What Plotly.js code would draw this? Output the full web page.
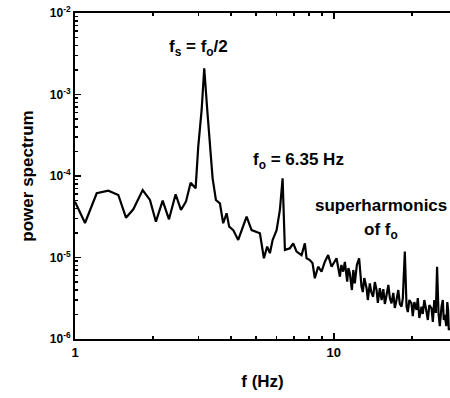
<!DOCTYPE html>
<html>
<head>
<meta charset="utf-8">
<script src="https://cdn.plot.ly/plotly-3.0.1.min.js"></script>
<style>html,body{margin:0;padding:0;background:#fff;}#chart{width:450px;height:398px;}</style>
</head>
<body>
<div id="chart"></div>
<script>
// frequency (Hz)
var freq = [
  1.000, 1.093, 1.213, 1.345, 1.470, 1.574, 1.680, 1.826, 1.948, 2.054,
  2.181, 2.307, 2.448, 2.567, 2.683, 2.797, 2.924, 2.993, 3.085, 3.157,
  3.243, 3.320, 3.401, 3.503, 3.629, 3.737, 3.852, 3.942, 4.086, 4.271,
  4.442, 4.602, 4.811, 5.029, 5.180, 5.367, 5.527, 5.662, 5.800, 6.009,
  6.188, 6.339, 6.470, 6.765, 6.966, 7.178, 7.504, 7.727, 7.845, 8.078,
  8.275, 8.444, 8.696, 8.962, 9.232, 9.507, 9.797, 10.24, 10.55, 10.69,
  10.86, 11.03, 11.26, 11.38, 11.53, 11.74, 11.89, 12.05, 12.27, 12.52,
  12.66, 12.79, 12.94, 13.11, 13.38, 13.53, 13.77, 13.95, 14.18, 14.40,
  14.62, 14.79, 15.05, 15.29, 15.53, 15.74, 15.98, 16.24, 16.46, 16.70,
  16.97, 17.20, 17.46, 17.74, 17.98, 18.26, 18.47, 18.80, 19.09, 19.31,
  19.57, 19.95, 20.18, 20.46, 20.86, 21.10, 21.39, 21.81, 22.06, 22.36,
  22.80, 23.07, 23.38, 23.84, 24.12, 24.44, 24.77, 25.05, 25.37, 25.66,
  26.06, 26.36, 26.59, 26.83, 27.19, 27.43, 27.63, 27.80, 28.04
];
// power spectrum
var power = [
  4.84e-5, 2.65e-5, 6.14e-5, 6.61e-5, 5.85e-5, 3.08e-5, 3.90e-5, 6.73e-5, 5.08e-5, 2.75e-5,
  4.98e-5, 2.94e-5, 5.96e-5, 3.83e-5, 4.84e-5, 8.28e-5, 7.06e-5, 2.29e-4, 6.46e-4, 2.09e-3,
  6.46e-4, 2.52e-4, 9.37e-5, 5.08e-5, 4.62e-5, 2.63e-5, 3.49e-5, 2.39e-5, 2.17e-5, 1.64e-5,
  2.39e-5, 3.17e-5, 2.17e-5, 2.07e-5, 1.98e-5, 9.78e-6, 1.36e-5, 1.13e-5, 1.64e-5, 2.17e-5,
  3.83e-5, 9.37e-5, 1.24e-5, 1.30e-5, 1.49e-5, 1.18e-5, 1.07e-5, 1.49e-5, 9.78e-6, 9.31e-6,
  8.49e-6, 5.56e-6, 7.71e-6, 6.70e-6, 8.87e-6, 1.07e-5, 7.71e-6, 9.78e-6, 5.81e-6, 8.09e-6,
  6.70e-6, 8.81e-6, 5.05e-6, 7.43e-6, 6.40e-6, 3.99e-6, 7.03e-6, 4.82e-6, 8.09e-6, 9.78e-6,
  6.10e-6, 4.38e-6, 3.77e-6, 5.60e-6, 4.19e-6, 3.01e-6, 4.82e-6, 3.77e-6, 3.30e-6, 5.00e-6,
  3.99e-6, 2.77e-6, 4.22e-6, 3.01e-6, 4.10e-6, 2.69e-6, 3.47e-6, 4.60e-6, 3.18e-6, 2.74e-6,
  3.67e-6, 2.40e-6, 3.01e-6, 3.99e-6, 2.69e-6, 2.49e-6, 3.18e-6, 1.18e-5, 2.49e-6, 2.14e-6,
  3.01e-6, 2.74e-6, 1.91e-6, 2.84e-6, 2.27e-6, 3.18e-6, 1.81e-6, 2.49e-6, 2.03e-6, 3.01e-6,
  2.16e-6, 1.71e-6, 2.61e-6, 2.38e-6, 1.62e-6, 3.01e-6, 2.09e-6, 7.71e-6, 2.07e-6, 1.44e-6,
  2.49e-6, 3.01e-6, 1.71e-6, 1.97e-6, 1.44e-6, 2.84e-6, 2.27e-6, 1.29e-6, 1.36e-6
];
// tick labels
var xTickVals = [1, 10];
var xTickText = ['1', '10'];
var yTickVals = [1e-6, 1e-5, 1e-4, 1e-3, 1e-2];
var yTickText = ['10<sup>-6</sup>', '10<sup>-5</sup>', '10<sup>-4</sup>', '10<sup>-3</sup>', '10<sup>-2</sup>'];

function minorTicks(lo, hi) {
  var out = [];
  for (var d = lo; d < hi; d++) {
    for (var m = 2; m <= 9; m++) out.push(m * Math.pow(10, d));
  }
  return out;
}

var FONT = 'Liberation Sans, Arial, sans-serif';

var trace = {
  x: freq, y: power, type: 'scatter', mode: 'lines',
  line: {color: '#000', width: 2.2}, hoverinfo: 'skip'
};

var annFont = {family: FONT, size: 17, color: '#000', weight: 'bold'};

var layout = {
  width: 450, height: 398,
  margin: {l: 75, r: 0, t: 13, b: 59},
  paper_bgcolor: '#fff', plot_bgcolor: '#fff',
  showlegend: false,
  font: {family: FONT, color: '#000'},
  xaxis: {
    type: 'log', range: [0, Math.log10(28.1)],
    tickmode: 'array', tickvals: xTickVals, ticktext: xTickText,
    ticks: 'inside', ticklen: 6, tickwidth: 1.5, tickcolor: '#000',
    minor: {tickmode: 'array', tickvals: minorTicks(0, 2), ticks: 'inside', ticklen: 3, tickcolor: '#000', showgrid: false},
    showline: true, linecolor: '#000', linewidth: 2, mirror: 'ticks',
    showgrid: false, zeroline: false,
    tickfont: {family: FONT, size: 13, color: '#000', weight: 'bold'},
    title: {text: 'f (Hz)', font: {family: FONT, size: 17, color: '#000', weight: 'bold'}, standoff: 17}
  },
  yaxis: {
    type: 'log', range: [-6, -2],
    tickmode: 'array', tickvals: yTickVals, ticktext: yTickText,
    ticks: 'inside', ticklen: 6, tickwidth: 1.5, tickcolor: '#000',
    minor: {tickmode: 'array', tickvals: minorTicks(-6, -2), ticks: 'inside', ticklen: 3, tickcolor: '#000', showgrid: false},
    showline: true, linecolor: '#000', linewidth: 2, mirror: false,
    showgrid: false, zeroline: false,
    tickfont: {family: FONT, size: 12, color: '#000', weight: 'bold'},
    title: {text: 'power spectrum', font: {family: FONT, size: 17, color: '#000', weight: 'bold'}, standoff: 12}
  },
  annotations: [
    {text: 'f<sub>s</sub> = f<sub>o</sub>/2', xref: 'paper', yref: 'paper', x: 0.33, y: 0.893, xanchor: 'center', yanchor: 'middle', showarrow: false, font: annFont},
    {text: 'f<sub>o</sub> = 6.35 Hz', xref: 'paper', yref: 'paper', x: 0.595, y: 0.546, xanchor: 'center', yanchor: 'middle', showarrow: false, font: annFont},
    {text: 'superharmonics', xref: 'paper', yref: 'paper', x: 0.815, y: 0.411, xanchor: 'center', yanchor: 'middle', showarrow: false, font: annFont},
    {text: 'of f<sub>o</sub>', xref: 'paper', yref: 'paper', x: 0.815, y: 0.332, xanchor: 'center', yanchor: 'middle', showarrow: false, font: annFont}
  ]
};

Plotly.newPlot('chart', [trace], layout, {displayModeBar: false, staticPlot: true});
</script>
</body>
</html>
